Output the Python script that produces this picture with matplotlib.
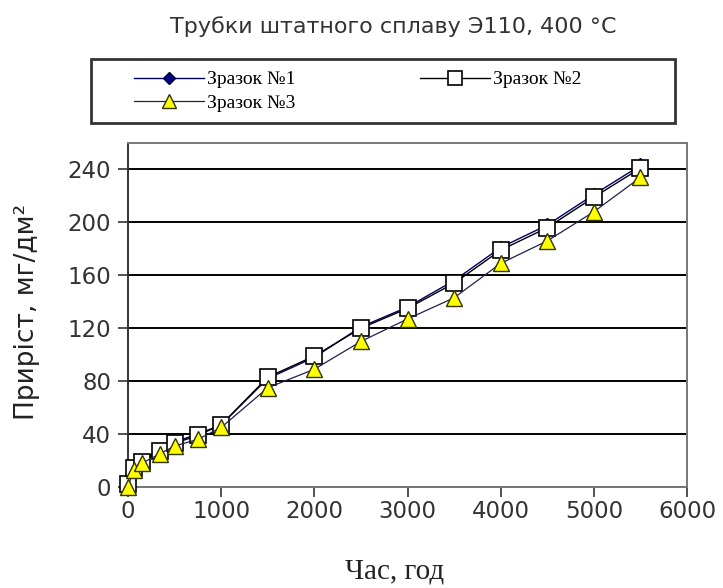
import matplotlib
matplotlib.use("Agg")
import matplotlib.pyplot as plt
from matplotlib.patches import Rectangle
from matplotlib.font_manager import FontProperties


########## Data ##########

# Exposure time [h]
hours = [0, 60, 150, 340, 500, 750, 1000, 1500, 2000, 2500, 3000, 3500, 4000, 4500, 5000, 5500]

# Weight gain [mg/dm^2] per sample
sample_1 = [2, 15, 20, 28, 34, 40, 47, 82, 98, 121, 136, 156, 181, 198, 221, 243]
sample_2 = [2, 14, 19, 27, 33, 39, 47, 83, 99, 120, 135, 154, 179, 196, 219, 241]
sample_3 = [0, 13, 18, 25, 31, 36, 45, 75, 89, 110, 127, 143, 169, 186, 208, 234]

labels = ["Зразок №1", "Зразок №2", "Зразок №3"]
title = "Трубки штатного сплаву Э110, 400 °C"
x_ticks = [0, 1000, 2000, 3000, 4000, 5000, 6000]
y_ticks = [0, 40, 80, 120, 160, 200, 240]


########## Figure setup ##########

W, H = 723, 588
fig = plt.figure(figsize=(W / 100, H / 100), dpi=100)
fig.patch.set_facecolor("white")

# axes box in pixels: x 128..687, y 143..487
ax = fig.add_axes([128 / W, (H - 487) / H, (687 - 128) / W, (487 - 143) / H])

sans = "DejaVu Sans"
serif = FontProperties(family="Liberation Serif", size=14)

# Plot series
h1, = ax.plot(hours, sample_1, color="#000060", lw=1.0, marker="D", ms=7,
			  mfc="#000080", mec="#000040", clip_on=False, zorder=3)
h2, = ax.plot(hours, sample_2, color="black", lw=1.0, marker="s", ms=11,
			  mfc="white", mec="black", mew=1.2, clip_on=False, zorder=4)
h3, = ax.plot(hours, sample_3, color="#20204a", lw=0.9, marker="^", ms=11,
			  mfc="#ffff00", mec="#333300", mew=1.0, clip_on=False, zorder=5)

# Axes, grid and ticks
ax.set_xlim(0, 6000)
ax.set_ylim(0, 260)
ax.set_xticks(x_ticks)
ax.set_yticks(y_ticks)
ax.grid(axis="y", color="black", lw=1.4)
ax.set_axisbelow(True)
for side in ["top", "right", "bottom"]:
	ax.spines[side].set_color("#777777")
	ax.spines[side].set_linewidth(1.4)
ax.spines["left"].set_color("#333333")
ax.spines["left"].set_linewidth(1.4)
ax.tick_params(axis="both", direction="out", length=7, width=1.2, color="#333333",
			   labelsize=16.5, labelcolor="#333333")
ax.tick_params(axis="x", pad=2)
ax.tick_params(axis="y", pad=5)
for lab in ax.get_xticklabels() + ax.get_yticklabels():
	lab.set_family(sans)

# Labels and title
ax.set_xlabel("Час, год", fontfamily="Liberation Serif", fontsize=21, color="#222222")
ax.xaxis.set_label_coords((395 - 128) / (687 - 128), -(571 - 487) / (487 - 143))
ax.xaxis.label.set_va("center")
ax.set_ylabel("Приріст, мг/дм²", fontfamily=sans, fontsize=19, color="#222222")
ax.yaxis.set_label_coords(-(128 - 27) / (687 - 128), (487 - 312) / (487 - 143))
ax.yaxis.label.set_va("center")
fig.text(393 / W, 1 - 27 / H, title, ha="center", va="center",
		 fontfamily=sans, fontsize=16, color="#333333")


########## Legend with its own frame ##########

fig.patches.append(Rectangle((91 / W, 1 - 123 / H), 584 / W, 64 / H, transform=fig.transFigure,
							 fill=False, ec="#333333", lw=2.0))
fig.legend([h1, h3, h2], [labels[0], labels[2], labels[1]], ncol=2, loc="upper left",
		   bbox_to_anchor=(124 / W, 1 - 61 / H), bbox_transform=fig.transFigure,
		   frameon=False, borderpad=0, handlelength=3.6, handletextpad=0.15,
		   columnspacing=6.4, labelspacing=0.3, markerscale=0.9, prop=serif)

fig.savefig("out.png", dpi=100)
